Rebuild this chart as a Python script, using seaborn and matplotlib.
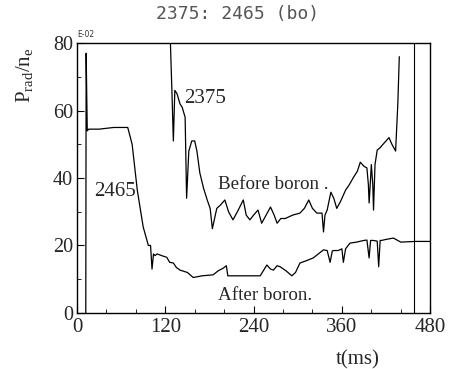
import numpy as np
import pandas as pd
import matplotlib
matplotlib.use("Agg")
import matplotlib.pyplot as plt
import seaborn as sns

# ---- data ----
t_2465 = [12, 12.5, 14, 16, 30, 50, 69, 75, 82, 90, 95, 97, 100, 102, 104, 106, 109, 115, 122, 126,
          131, 135, 140, 150, 158, 170, 185, 192, 199, 203, 205, 215, 230, 249, 258, 263, 267, 272, 276, 284,
          292, 297, 303, 312, 321, 328, 335, 340, 344, 347, 349, 355, 360, 362, 365, 371, 380, 390, 394, 397,
          399, 402, 408, 410, 412, 414, 420, 430, 440, 460, 480]
v_2465 = [0, 77, 54, 54.5, 54.5, 55, 55, 50, 36.4, 25.5, 21.6, 20, 20, 13, 17.5, 17, 17.5, 17, 16.5, 15,
          14.8, 13.5, 12.7, 12, 10.5, 11, 11.3, 12.5, 13.3, 14, 11, 11, 11, 11, 14.2, 13, 12.7, 14, 13.7, 12.5,
          11, 12, 14.8, 15.5, 16.3, 17.5, 18.7, 18.5, 15, 18.4, 18.5, 18.5, 19, 15, 19, 20.7, 21, 21.5, 21.6, 16.3,
          21.5, 21.5, 21.3, 13.7, 21.5, 21.5, 21.8, 22.2, 21, 21.2, 21.2]

t_2375 = [125, 127, 129, 131, 133, 136, 140, 143, 147, 149, 152, 156, 160, 163, 167, 172, 177, 181, 184, 190,
          195, 201, 206, 212, 218, 226, 230, 235, 240, 246, 251, 257, 263, 268, 272, 277, 283, 293, 303, 309,
          315, 320, 326, 333, 335, 337, 340, 345, 349, 353, 358, 365, 370, 376, 381, 385, 390, 394, 396, 397,
          399, 400, 402, 403, 405, 408, 412, 415, 420, 424, 428, 433, 436, 438]
v_2375 = [88, 80, 66, 51, 66, 65, 62, 61, 58, 34, 48, 51, 51, 48, 41.5, 37, 33.5, 31, 25, 31,
          32, 33.5, 30, 27.6, 30, 33.5, 29, 27.6, 29, 30.5, 26.6, 29, 31.4, 29, 26.6, 28, 28, 29, 29.6, 31,
          33.5, 31, 29.6, 29.6, 24, 29, 30.5, 35.8, 34, 31, 33, 36.4, 38, 40.3, 42, 44.7, 43.5, 43, 38, 32.6,
          40, 44, 38, 30.5, 44, 48.3, 49, 49.8, 51, 52, 50, 48, 62, 76]

marker_t = 458
x_ticks = [0, 120, 240, 360, 480]
y_ticks = [0, 20, 40, 60, 80]

df1 = pd.DataFrame({"t": t_2465, "v": v_2465})
df2 = pd.DataFrame({"t": t_2375, "v": v_2375})

sns.set_style("ticks")
plt.rcParams["font.family"] = ["Liberation Serif", "DejaVu Serif"]
plt.rcParams["mathtext.fontset"] = "custom"
plt.rcParams["mathtext.rm"] = "Liberation Serif"

fig = plt.figure(figsize=(4.5, 3.69), dpi=100)
ax = fig.add_axes([0.171, 0.152, 0.785, 0.731])

sns.lineplot(data=df1, x="t", y="v", ax=ax, color="black", linewidth=0.9, sort=False, estimator=None)
sns.lineplot(data=df2, x="t", y="v", ax=ax, color="black", linewidth=0.9, sort=False, estimator=None)
ax.axvline(marker_t, color="black", linewidth=0.8)

ax.set_xlim(0, 480)
ax.set_ylim(0, 80)
ax.set_xticks(x_ticks)
ax.set_yticks(y_ticks)
ax.set_xticks(np.arange(0, 481, 40), minor=True)
ax.set_yticks(np.arange(0, 81, 10), minor=True)
ax.tick_params(axis="both", which="both", direction="in", color="black")
ax.tick_params(axis="x", labelsize=15, pad=4)
ax.tick_params(axis="y", labelsize=14.5, pad=3)
ax.tick_params(which="major", length=5)
ax.tick_params(which="minor", length=3)
for s in ax.spines.values():
    s.set_linewidth(1.0)
    s.set_color("black")
ax.set_xlabel("")
ax.set_ylabel("")

ax.text(146, 63.5, "2375", fontsize=15, ha="left", va="center")
ax.text(52, 35.9, "2465", fontsize=15, ha="center", va="center")
ax.text(267, 38, "Before boron .", fontsize=13.7, ha="center", va="center")
ax.text(256, 5.3, "After boron.", fontsize=13.7, ha="center", va="center")

fig.text(0.527, 0.962, "2375: 2465 (bo)", fontsize=13, color="#555555",
         family="DejaVu Sans Mono", ha="center", va="center")
fig.text(0.172, 0.907, "E-02", fontsize=5.5, color="#333333",
         family="DejaVu Sans", ha="left", va="center")
fig.text(0.055, 0.795, r"P$_{\rm rad}$/n$_{\rm e}$", fontsize=15, rotation=90,
         ha="center", va="center")
fig.text(0.795, 0.025, "t(ms)", fontsize=15, ha="center", va="center")

fig.savefig("out.png", dpi=100)
